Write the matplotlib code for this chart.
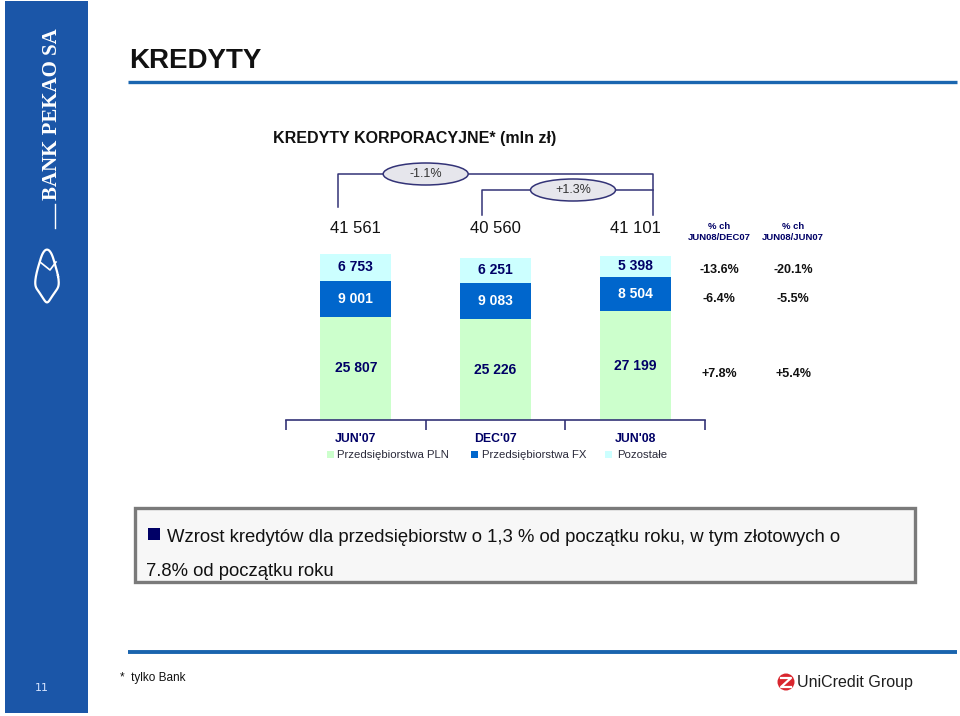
import matplotlib
matplotlib.use('Agg')
import matplotlib.pyplot as plt
from matplotlib.patches import Rectangle, Ellipse, Circle
import numpy as np

plt.rcParams['font.family'] = ['Liberation Sans', 'DejaVu Sans']

# ---------------- data ----------------
categories = ["JUN'07", "DEC'07", "JUN'08"]
pln = [25807, 25226, 27199]
fx = [9001, 9083, 8504]
other = [6753, 6251, 5398]
totals = [41561, 40560, 41101]
series_names = ["Przedsiębiorstwa PLN", "Przedsiębiorstwa FX", "Pozostałe"]
chg_headers = ["% ch\nJUN08/DEC07", "% ch\nJUN08/JUN07"]
chg_other = ["-13.6%", "-20.1%"]
chg_fx = ["-6.4%", "-5.5%"]
chg_pln = ["+7.8%", "+5.4%"]
bracket_labels = ["-1.1%", "+1.3%"]


def fmt(v):
    return f"{v:,}".replace(",", " ")


C_PLN = '#ccffcc'
C_FX = '#0066cc'
C_OTH = '#ccffff'
NAVY = '#000066'
LINE = '#333377'

W, H = 960, 716
fig = plt.figure(figsize=(W / 100, H / 100), dpi=100)

# background overlay in pixel coordinates
bg = fig.add_axes([0, 0, 1, 1], zorder=0)
bg.set_xlim(0, W)
bg.set_ylim(H, 0)
bg.axis('off')

# sidebar
bg.add_patch(Rectangle((5, 1), 83, 712, color='#1b56a8', lw=0))
bg.text(52, 114, "BANK PEKAO SA", rotation=90, ha='center', va='center',
        color='white', fontsize=15, fontweight='bold', family='Liberation Serif')
bg.plot([55, 55], [204, 228], color='white', lw=1.0)
# small logo outline
t = np.linspace(0, 2 * np.pi, 200)
lx = 47 + 11 * np.cos(t) * (1 + 0.15 * np.sin(3 * t))
ly = 276 + 24 * np.sin(t) * (1 + 0.1 * np.cos(4 * t))
bg.plot(lx, ly, color='white', lw=1.6)
bg.plot([40, 50, 56], [262, 270, 262], color='white', lw=1.2)
bg.text(42, 688, "11", ha='center', va='center', color='#d6e4ff', fontsize=8,
        family='DejaVu Sans')

# header / footer lines
bg.plot([128, 957], [82, 82], color='#1a66b0', lw=2.4, solid_capstyle='butt')
bg.plot([128, 957], [652, 652], color='#1a64ae', lw=2.8, solid_capstyle='butt')

bg.text(129, 61, "KREDYTY", ha='left', va='center', fontsize=20, fontweight='bold',
        color='#111111')
bg.text(273, 138, "KREDYTY KORPORACYJNE* (mln zł)", ha='left', va='center',
        fontsize=11.5, fontweight='bold', color='#111111')

bg.text(120, 678, "*  tylko Bank", ha='left', va='center', fontsize=8.5, color='#111111')

# UniCredit logo
bg.add_patch(Circle((786, 682), 8.5, color='#d9262e', lw=0))
bg.plot([781, 791, 781, 791], [678, 678, 687, 687], color='white', lw=1.6)
bg.text(797, 683, "UniCredit Group", ha='left', va='center', fontsize=11.5,
        color='#1e1e1e')

# bullet text box
bg.add_patch(Rectangle((135, 508), 780, 74, facecolor='#f7f7f7', edgecolor='#7a7a7a', lw=2.4))
bg.add_patch(Rectangle((148, 528), 12, 12, color=NAVY, lw=0))
bg.text(167, 537, "Wzrost kredytów dla przedsiębiorstw o 1,3 % od początku roku, w tym złotowych o",
        ha='left', va='center', fontsize=13.3, color='#111111')
bg.text(146, 571, "7.8% od początku roku", ha='left', va='center', fontsize=13.3, color='#111111')

# % change columns
col_x = [719, 793]
for j in range(2):
    bg.text(col_x[j], 232, chg_headers[j], ha='center', va='center', fontsize=6.8,
            fontweight='bold', color=NAVY, linespacing=1.15)
    bg.text(col_x[j], 270, chg_other[j], ha='center', va='center', fontsize=9,
            fontweight='bold', color='#111111')
    bg.text(col_x[j], 299, chg_fx[j], ha='center', va='center', fontsize=9,
            fontweight='bold', color='#111111')
    bg.text(col_x[j], 374, chg_pln[j], ha='center', va='center', fontsize=9,
            fontweight='bold', color='#111111')

# legend
leg_sq = [327, 471, 605]
leg_tx = [337, 482, 617]
for c, sx, tx, name in zip([C_PLN, C_FX, C_OTH], leg_sq, leg_tx, series_names):
    bg.add_patch(Rectangle((sx, 451), 7, 7, color=c, lw=0))
    bg.text(tx, 455, name, ha='left', va='center', fontsize=8.2, color='#2a2a3a')

# ---------------- chart axes ----------------
UNIT = 250.0  # value per pixel
ax_left, ax_right, ax_base, ax_top = 286, 705, 420, 150
ax = fig.add_axes([ax_left / W, (H - ax_base) / H, (ax_right - ax_left) / W,
                   (ax_base - ax_top) / H], zorder=1)
ax.patch.set_alpha(0)
ax.set_xlim(-0.5, 2.5)
ax.set_ylim(0, (ax_base - ax_top) * UNIT)

x = np.arange(len(categories))
bw = 0.51
pln_a = np.array(pln)
fx_a = np.array(fx)
oth_a = np.array(other)
ax.bar(x, pln_a, width=bw, color=C_PLN, lw=0)
ax.bar(x, fx_a, width=bw, bottom=pln_a, color=C_FX, lw=0)
ax.bar(x, oth_a, width=bw, bottom=pln_a + fx_a, color=C_OTH, lw=0)

for i in range(len(categories)):
    ax.text(x[i], pln_a[i] / 2, fmt(pln_a[i]), ha='center', va='center',
            fontsize=10, fontweight='bold', color=NAVY)
    ax.text(x[i], pln_a[i] + fx_a[i] / 2, fmt(fx_a[i]), ha='center', va='center',
            fontsize=10, fontweight='bold', color='white')
    ax.text(x[i], pln_a[i] + fx_a[i] + oth_a[i] / 2, fmt(oth_a[i]), ha='center',
            va='center', fontsize=10, fontweight='bold', color=NAVY)
    ax.text(x[i], 47800, fmt(totals[i]), ha='center', va='center', fontsize=12,
            color='#111111')
    ax.text(x[i], -4700, categories[i], ha='center', va='center', fontsize=8.8,
            fontweight='bold', color=NAVY, clip_on=False)

for s in ['top', 'left', 'right']:
    ax.spines[s].set_visible(False)
ax.spines['bottom'].set_color(LINE)
ax.spines['bottom'].set_linewidth(1.2)
ax.set_yticks([])
ax.set_xticks([-0.5, 0.5, 1.5, 2.5])
ax.set_xticklabels([])
ax.tick_params(axis='x', direction='out', length=7, width=1.2, color=LINE)

# brackets
slot = (ax_right - ax_left) / 3.0  # px per category
ax.plot([x[0] - 0.125, x[0] - 0.125, x[2] + 0.13, x[2] + 0.13],
        [53250, 61500, 61500, 51250], color=LINE, lw=1.1, clip_on=False)
ax.plot([x[1] - 0.1, x[1] - 0.1, x[2] + 0.13],
        [51250, 57500, 57500], color=LINE, lw=1.1, clip_on=False)
ell_w = 85 / slot
ell_h = 22 * UNIT
for cx, cy, lab in [(0.5, 61500, bracket_labels[0]), (1.555, 57500, bracket_labels[1])]:
    ax.add_patch(Ellipse((cx, cy), ell_w, ell_h, facecolor='#e6e6ec', edgecolor=LINE,
                         lw=1.1, clip_on=False, zorder=3))
    ax.text(cx, cy, lab, ha='center', va='center', fontsize=9, color='#333333', zorder=4)

fig.savefig('out.png', dpi=100)
